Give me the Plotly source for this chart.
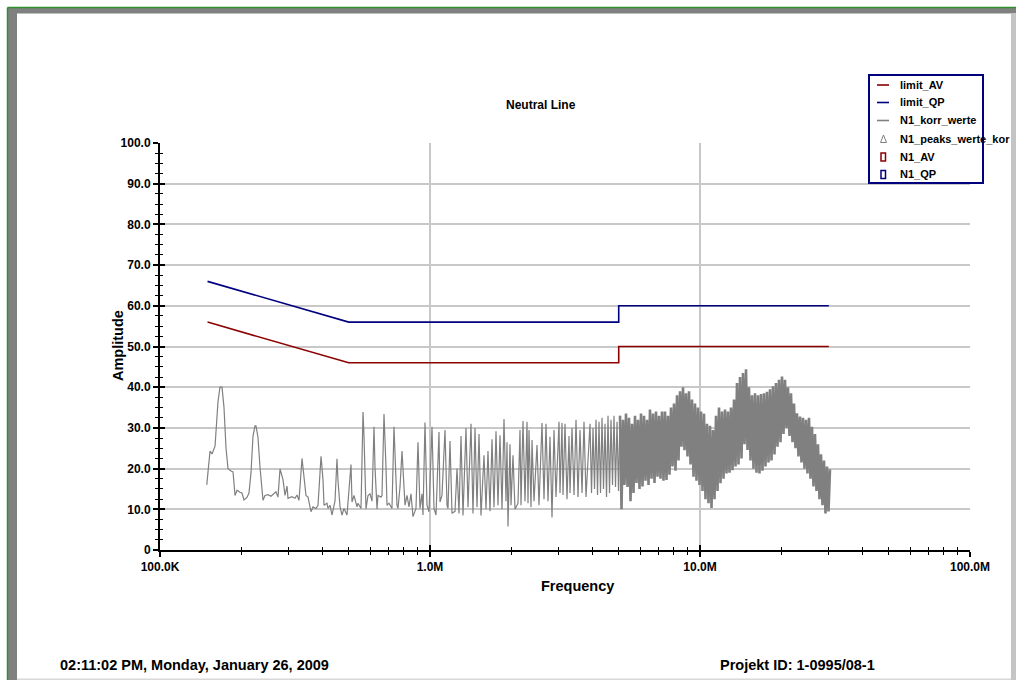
import numpy as np
import plotly.graph_objects as go

# ---------------------------------------------------------------- data
# Conducted emission limits, class B (frequency in MHz, level in dBµV)
limit_freq_mhz = [0.15, 0.5, 5.0, 5.0, 30.0]
limit_qp_dbuv = [66.0, 56.0, 56.0, 60.0, 60.0]
limit_av_dbuv = [56.0, 46.0, 46.0, 50.0, 50.0]

# Neutral line scan, lower band: individual harmonics resolved
scan_low_mhz = [
    0.149, 0.1532, 0.1558, 0.1599, 0.1640, 0.1668, 0.1697, 0.1726, 0.1756, 0.1786,
    0.1833, 0.1864, 0.1896, 0.1929, 0.1978, 0.2012, 0.2047, 0.2100, 0.2136, 0.2173,
    0.2210, 0.2248, 0.2267, 0.2306, 0.2346, 0.2407, 0.2448, 0.2512, 0.2577, 0.2644,
    0.2689, 0.2735, 0.2783, 0.2855, 0.2904, 0.2954, 0.2979, 0.3082, 0.3162, 0.3216,
    0.3272, 0.3357, 0.3415, 0.3473, 0.3533, 0.3594, 0.3625, 0.3687, 0.3783, 0.3848,
    0.3948, 0.4015, 0.4050, 0.4155, 0.4190, 0.4262, 0.4335, 0.4448, 0.4524, 0.4563,
    0.4642, 0.4722, 0.4803, 0.4927, 0.4970, 0.5098, 0.5142, 0.5230, 0.5366, 0.5412,
    0.5552, 0.5648, 0.5696, 0.5794, 0.5894, 0.5995, 0.6098, 0.6203, 0.6256, 0.6364,
    0.6418, 0.6584, 0.6640, 0.6755, 0.6871, 0.6929, 0.7049, 0.7231, 0.7356, 0.7546,
    0.7611, 0.7743, 0.7876, 0.8012, 0.8081, 0.8219, 0.8361, 0.8504, 0.8649, 0.8874,
    0.9026, 0.9182, 0.9340, 0.9420, 0.9582, 0.9747, 0.9915, 1.0172, 1.0347, 1.0525,
    1.0798, 1.0890, 1.1077, 1.1365, 1.1560, 1.1659, 1.1860, 1.2064, 1.2377, 1.2589,
    1.2806, 1.3026, 1.3250, 1.3593, 1.3827, 1.4186, 1.4429, 1.4678, 1.4930, 1.5188,
    1.5449, 1.5849, 1.6121, 1.6398, 1.6681, 1.6968, 1.7260, 1.7557, 1.7859, 1.8166,
    1.8478, 1.8796, 1.9120, 1.9283, 1.9449, 1.9783, 1.9953, 2.0295, 2.0645, 2.1180,
    2.1544, 2.1729, 2.2102, 2.2483, 2.2869, 2.3065, 2.3263, 2.3664, 2.3866, 2.4276,
    2.4905, 2.5334, 2.5990, 2.6438, 2.6892, 2.7355, 2.7826, 2.8305, 2.8792, 2.9287,
    3.0047, 3.0304, 3.0825, 3.1089, 3.1625, 3.2168, 3.2722, 3.3003, 3.3571, 3.4148,
    3.4736, 3.5333, 3.5940, 3.6558, 3.7187, 3.7827,
]
scan_low_dbuv = [
    16.0, 24.3, 23.6, 25.5, 36.5, 40.0, 40.0, 35.0, 25.0, 20.0,
    19.4, 19.2, 13.4, 14.7, 14.2, 14.0, 12.3, 12.9, 14.0, 19.0,
    28.0, 30.5, 30.5, 27.7, 20.4, 12.2, 13.4, 13.6, 13.2, 13.8,
    14.3, 13.0, 19.9, 17.3, 13.4, 15.7, 12.7, 13.1, 12.7, 13.5,
    12.2, 22.5, 18.0, 13.4, 13.0, 10.6, 9.4, 10.6, 10.2, 11.0,
    23.0, 17.3, 11.0, 11.5, 10.2, 11.0, 8.6, 12.0, 22.4, 17.0,
    10.6, 8.6, 10.2, 8.6, 12.2, 21.0, 11.8, 13.4, 10.6, 11.5,
    10.2, 33.9, 28.0, 10.1, 13.4, 13.8, 12.0, 30.3, 20.4, 10.1,
    13.4, 13.0, 13.4, 33.4, 20.4, 11.0, 11.5, 10.2, 30.3, 11.0,
    10.2, 15.5, 24.3, 15.0, 11.0, 13.4, 10.6, 13.8, 8.2, 10.2,
    26.5, 10.2, 13.8, 8.6, 31.3, 11.0, 9.4, 30.3, 10.2, 8.6,
    29.0, 11.8, 13.4, 29.5, 11.0, 10.2, 26.8, 9.0, 9.5, 20.0,
    9.0, 28.0, 8.5, 30.0, 10.5, 31.0, 9.0, 30.0, 10.5, 28.5,
    8.5, 23.3, 10.0, 24.3, 9.5, 27.2, 10.5, 29.2, 11.0, 28.2,
    10.0, 32.2, 12.0, 26.5, 5.8, 26.0, 11.0, 23.3, 10.0, 11.5,
    29.5, 11.0, 31.7, 12.0, 31.5, 11.5, 29.5, 10.5, 27.0, 12.0,
    25.8, 11.0, 31.2, 12.5, 31.0, 12.0, 27.8, 8.0, 29.5, 13.0,
    31.5, 14.0, 31.2, 13.5, 31.0, 12.5, 28.0, 14.0, 30.0, 13.5,
    32.0, 13.0, 29.5, 14.0, 31.5, 13.0,
]

# Neutral line scan, upper band: dense sweep on a logarithmic grid
sweep_start_mhz = 3.914
sweep_stop_mhz = 30.3
sweep_dbuv = [
    31, 14, 30, 15, 32, 13.5, 31.5, 14, 32.5, 15,
    31, 13, 33, 14, 32, 16, 33, 15.5, 31.5, 14.5,
    33, 10, 32, 16, 33.5, 15.5, 32.5, 12, 31, 14,
    33, 16.5, 32, 15, 33.5, 15.6, 33, 17, 32, 16,
    34.5, 17.5, 33.5, 16.5, 34, 18, 33, 17.5, 34, 17,
    34, 17.2, 33, 18.5, 35, 20.5, 36, 19.5, 38, 22,
    39, 25.4, 40, 24.5, 38.5, 23, 39, 21, 37, 18,
    36, 17, 35, 16, 34, 14.5, 33.5, 12.5, 31, 11.5,
    30.5, 10.3, 29.5, 12.5, 33, 14.5, 35, 16.4, 34, 17.5,
    34.5, 18.8, 34, 19, 35, 19.6, 37, 20.5, 41, 21,
    42.5, 22.5, 43.5, 26, 44.4, 24.6, 40, 22, 38, 20,
    38.5, 19, 38, 18.8, 38.3, 19.5, 38.5, 20.5, 38.9, 21.5,
    39.5, 22, 40.2, 23.5, 41, 25.4, 41.8, 26.5, 42.6, 28.5,
    41.8, 30, 40, 28, 38.5, 26.5, 36, 25, 33.6, 23,
    32.8, 21.5, 32.5, 20, 32, 18.8, 32.5, 17.5, 30.3, 15.6,
    28.5, 14.5, 26, 12.5, 23.5, 11, 22, 9, 20.5, 9.5, 19.8,
]

# axis labelling
x_tick_mhz = [0.1, 1.0, 10.0, 100.0]
x_tick_text = ["100.0K", "1.0M", "10.0M", "100.0M"]
y_tick_vals = [0, 10, 20, 30, 40, 50, 60, 70, 80, 90, 100]
y_tick_text = ["0", "10.0", "20.0", "30.0", "40.0", "50.0", "60.0", "70.0",
               "80.0", "90.0", "100.0"]

legend_names = ["limit_AV", "limit_QP", "N1_korr_werte", "N1_peaks_werte_kor",
                "N1_AV", "N1_QP"]

# ---------------------------------------------------------------- styling
W, H = 1016, 680
PL, PR, PT, PB = 160, 970, 143, 550          # plot area in page pixels
FONT = "Liberation Sans, Arial, Helvetica, sans-serif"
C_AV = "#8b0000"
C_QP = "#00007f"
C_SCAN = "#808080"
C_GRID = "#c8c8c8"


def px(xp):
    return (xp - PL) / (PR - PL)


def py(yp):
    return (PB - yp) / (PB - PT)


assert len(scan_low_mhz) == len(scan_low_dbuv)
sweep_mhz = np.geomspace(sweep_start_mhz, sweep_stop_mhz, len(sweep_dbuv))
sweep_arr = np.asarray(sweep_dbuv, dtype=float)
# above 5 MHz the sweep is packed tightly enough to read as a solid band
split = int(np.searchsorted(sweep_mhz, 5.0))

fig = go.Figure()
fig.add_trace(go.Scatter(x=list(scan_low_mhz) + list(sweep_mhz[:split + 1]),
                         y=list(scan_low_dbuv) + list(sweep_arr[:split + 1]),
                         mode="lines", name="N1_korr_werte",
                         line=dict(color=C_SCAN, width=1.2)))
fig.add_trace(go.Scatter(x=sweep_mhz[split:], y=sweep_arr[split:], mode="lines",
                         name="N1_korr_werte", showlegend=False,
                         line=dict(color=C_SCAN, width=2.6)))
fig.add_trace(go.Scatter(x=limit_freq_mhz, y=limit_av_dbuv, mode="lines", name="limit_AV",
                         line=dict(color=C_AV, width=1.6)))
fig.add_trace(go.Scatter(x=limit_freq_mhz, y=limit_qp_dbuv, mode="lines", name="limit_QP",
                         line=dict(color=C_QP, width=1.6)))
# empty series kept on the overlay axes (they carry the crossing tick marks)
for nm in ["N1_peaks_werte_kor", "N1_AV", "N1_QP"]:
    fig.add_trace(go.Scatter(x=[], y=[], name=nm, xaxis="x2", yaxis="y2"))

minor_x = [m * 10.0 ** e for e in (-1, 0, 1) for m in range(2, 10)]

common_x = dict(type="log", range=[-1, 2], tickmode="array", tickvals=x_tick_mhz,
                tickwidth=1.5, tickcolor="black", zeroline=False, fixedrange=True)
common_y = dict(range=[0, 100], tickmode="array", tickvals=y_tick_vals,
                tickwidth=1.5, tickcolor="black", zeroline=False, fixedrange=True)

fig.update_layout(
    width=W, height=H,
    margin=dict(l=PL, r=W - PR, t=PT, b=H - PB, pad=0, autoexpand=False),
    paper_bgcolor="white", plot_bgcolor="white",
    showlegend=False,
    font=dict(family=FONT, size=12, color="black", weight="bold"),
    xaxis=dict(**common_x, ticktext=x_tick_text, ticks="outside", ticklen=5,
               showline=True, linecolor="black", linewidth=2,
               showgrid=True, gridcolor=C_GRID, gridwidth=1.5,
               tickfont=dict(family=FONT, size=12, color="black", weight="bold"),
               minor=dict(tickmode="array", tickvals=minor_x, ticks="outside",
                          ticklen=3, tickwidth=1.2, tickcolor="black", showgrid=False)),
    xaxis2=dict(**common_x, overlaying="x", anchor="y", side="bottom",
                ticks="inside", ticklen=5, showticklabels=False, showgrid=False,
                showline=False,
                minor=dict(tickmode="array", tickvals=minor_x, ticks="inside",
                           ticklen=3, tickwidth=1.2, tickcolor="black", showgrid=False)),
    yaxis=dict(**common_y, ticktext=y_tick_text, ticks="outside", ticklen=5,
               showline=True, linecolor="black", linewidth=2,
               showgrid=True, gridcolor=C_GRID, gridwidth=1.5,
               tickfont=dict(family=FONT, size=12, color="black", weight="bold"),
               minor=dict(tick0=0, dtick=2.5, ticks="outside", ticklen=3,
                          tickwidth=1.2, tickcolor="black", showgrid=False)),
    yaxis2=dict(**common_y, overlaying="y", anchor="x", side="left",
                ticks="inside", ticklen=5, showticklabels=False, showgrid=False,
                showline=False,
                minor=dict(tick0=0, dtick=2.5, ticks="inside", ticklen=3,
                           tickwidth=1.2, tickcolor="black", showgrid=False)),
)

shapes = []
annotations = []


def text(x, y, s, size=12, xanchor="center", yanchor="middle", angle=0):
    annotations.append(dict(x=px(x), y=py(y), xref="paper", yref="paper", text=s,
                            showarrow=False, xanchor=xanchor, yanchor=yanchor,
                            textangle=angle,
                            font=dict(family=FONT, size=size, color="black",
                                      weight="bold")))


def rect(x0, y0, x1, y1, fill=None, line=None, lw=0):
    shapes.append(dict(type="rect", xref="paper", yref="paper", layer="above",
                       x0=px(x0), x1=px(x1), y0=py(y0), y1=py(y1),
                       fillcolor=fill or "rgba(0,0,0,0)",
                       line=dict(color=line or "rgba(0,0,0,0)", width=lw)))


def seg(x0, y0, x1, y1, color, lw):
    shapes.append(dict(type="line", xref="paper", yref="paper", layer="above",
                       x0=px(x0), x1=px(x1), y0=py(y0), y1=py(y1),
                       line=dict(color=color, width=lw)))


# page frame: green rule with a grey bevel
rect(8, 8, 17, H, fill="#808080")
rect(8, 8, W, 13.5, fill="#808080")
rect(1011, 13, W, H, fill="#c4c4c4")
rect(17, 678.5, 1011, H, fill="#d8d8d8")
seg(7.5, 7.5, W, 7.5, "#2f8f2f", 1.5)
seg(7.5, 7.5, 7.5, H, "#2f8f2f", 1.5)

# titles
text(541, 105, "Neutral Line", size=12)
text(577, 586, "Frequency", size=14.5)
text(118, 346, "Amplitude", size=14.5, angle=-90)
text(58, 665, "02:11:02 PM, Monday, January 26, 2009", size=14.5, xanchor="left")
text(718, 665, "Projekt ID: 1-0995/08-1", size=14.5, xanchor="left")

# legend box
rect(869, 75, 983, 183, fill="white", line=C_QP, lw=2)
row_y = [85, 102.5, 120.5, 139, 157, 174.5]
seg(877, row_y[0], 889, row_y[0], C_AV, 1.6)
seg(877, row_y[1], 889, row_y[1], C_QP, 1.6)
seg(877, row_y[2], 889, row_y[2], C_SCAN, 1.6)
shapes.append(dict(type="path", xref="paper", yref="paper", layer="above",
                   path="M {a},{b} L {c},{d} L {e},{d} Z".format(
                       a=px(883.5), b=py(row_y[3] - 4), c=px(880.5),
                       d=py(row_y[3] + 3.5), e=px(886.5)),
                   line=dict(color=C_SCAN, width=1)))
rect(881, row_y[4] - 4, 885.5, row_y[4] + 4, line=C_AV, lw=1.5)
rect(881, row_y[5] - 4, 885.5, row_y[5] + 4, line=C_QP, lw=1.5)
for nm, yy in zip(legend_names, row_y):
    text(898, yy, nm, size=11, xanchor="left")

fig.update_layout(shapes=shapes, annotations=annotations)
fig.write_html("out.html")
